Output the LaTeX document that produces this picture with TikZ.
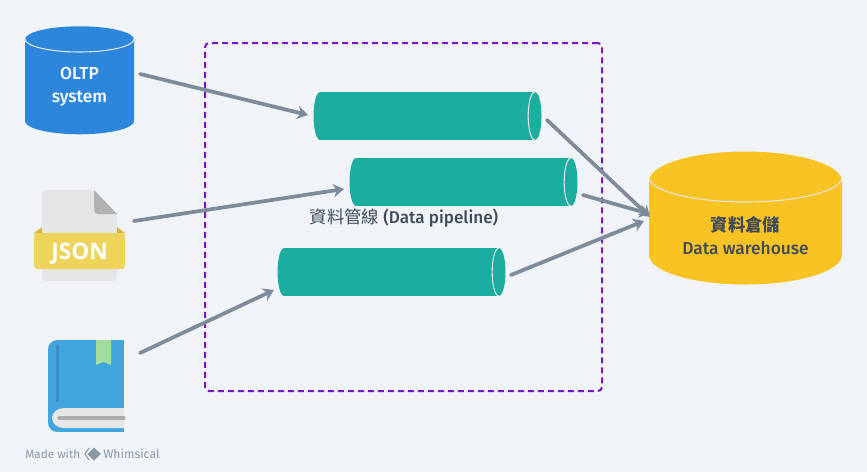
\documentclass[tikz,border=0pt]{standalone}
\usepackage{fontspec}
\setmainfont{Fira Sans}[BoldFont={Fira Sans Medium}]
\newfontfamily\cjk{Noto Sans CJK TC}
\newfontfamily\jsonfont{Open Sans}
\usepackage{xcolor}
\usetikzlibrary{shapes.geometric,arrows.meta,positioning,calc}

\definecolor{bgcol}{HTML}{F0F4F8}
\definecolor{oltpcol}{HTML}{2B86DC}
\definecolor{pipecol}{HTML}{1BAE9E}
\definecolor{whcol}{HTML}{F9C323}
\definecolor{arrcol}{HTML}{7D8B9A}
\definecolor{boxcol}{HTML}{7A14C8}
\definecolor{inkcol}{HTML}{3E4A57}
\definecolor{markcol}{HTML}{8C98A5}
\definecolor{bandcol}{HTML}{EFD45C}
\definecolor{bandedge}{HTML}{D9B43C}
\definecolor{paper}{HTML}{E6E6E6}
\definecolor{bookcol}{HTML}{42A5DE}
\definecolor{spinecol}{HTML}{3F8CC4}
\definecolor{ribbon}{HTML}{A0DC9C}

\begin{document}
\begin{tikzpicture}[
  x=0.75pt, y=-0.75pt,
  db/.style={cylinder, shape border rotate=90, draw=none, inner sep=0pt, outer sep=0pt,
             align=center, font=\bfseries\fontsize{13}{17.5}\selectfont},
  pipe/.style={rectangle, fill=pipecol, inner sep=0pt, outer sep=0pt,
               minimum width=161pt, minimum height=36pt},
  rim/.style={draw=white!80!gray, line width=0.8pt},
  arr/.style={-{Stealth[length=8pt, width=10pt, inset=2.5pt]}, line width=2.8pt, arrcol, line cap=round}
]
\fill[bgcol] (0,0) rectangle (867,472);
\useasboundingbox (0,0) rectangle (867,472);

% pipeline frame
\node[draw=boxcol, line width=1.5pt, dash pattern=on 4.5pt off 3pt, rounded corners=3pt,
      minimum width=297.75pt, minimum height=261pt, inner sep=0pt] (frame) at (403.5,217) {};

% sources
\node[db, fill=oltpcol, text=white, minimum width=81.75pt, minimum height=81pt, shape aspect=0.477] (oltp) at (79.5,87) {OLTP\\system};
\draw[rim] (25,39) arc[start angle=180, end angle=360, x radius=40.9pt, y radius=9.75pt];

\fill[paper] (42,194) arc[start angle=180, end angle=90, radius=3pt] -- (94,190) -- (117,214) -- (117,277)
  arc[start angle=0, end angle=-90, radius=3pt] -- (46,281) arc[start angle=270, end angle=180, radius=3pt] -- cycle;
\fill[black!30] (94,190) -- (117,214) -- (98,214) arc[start angle=270, end angle=180, radius=3pt] -- cycle;
\fill[bandedge] (34,233) -- (42,227) -- (42,233) -- cycle (125,233) -- (117,227) -- (117,233) -- cycle;
\node[fill=bandcol, rounded corners=2pt, text=white, inner sep=0pt, minimum width=68.25pt, minimum height=27pt,
      text height=12pt, text depth=0pt, font=\jsonfont\bfseries\fontsize{17}{18}\selectfont] (json) at (79.5,251) {JSON};

\node[fill=bookcol, inner sep=0pt, minimum width=57pt, minimum height=69pt] (book) at (86,386) {};
\fill[bgcol] (48,340) -- (57,340) arc[start angle=90, end angle=180, radius=6.75pt] -- cycle;
\fill[bgcol] (48,432) -- (48,423) arc[start angle=180, end angle=270, radius=6.75pt] -- cycle;
\fill[paper] (124,408) -- (64,408) arc[start angle=90, end angle=270, x radius=9pt, y radius=7.5pt] -- (124,428) -- cycle;
\draw[black!32, line width=2.6pt, line cap=round] (59,418) -- (124,418);
\draw[spinecol, line width=2.6pt, line cap=round] (57.5,346) -- (57.5,401);
\fill[ribbon] (96,340) -- (111,340) -- (111,365) -- (103.5,362) -- (96,365) -- cycle;

% pipelines
\node[pipe] (pipeA) at (427.5,116) {};
\node[pipe] (pipeB) at (463.5,182) {};
\node[pipe] (pipeC) at (391.5,272) {};
\foreach \p in {pipeA,pipeB,pipeC} {
  \fill[pipecol] (\p.west) circle[x radius=5pt, y radius=18pt] (\p.east) circle[x radius=5pt, y radius=18pt];
  \draw[rim] (\p.north east) arc[start angle=90, end angle=270, x radius=5pt, y radius=18pt];
}
\node[text=inkcol, font=\bfseries\fontsize{12.8}{14}\selectfont] (label) at (404,218) {{\cjk\mdseries\fontsize{13}{14}\selectfont 資料管線} (Data pipeline)};

% warehouse
\node[db, fill=whcol, text=inkcol, minimum width=144.75pt, minimum height=99pt, shape aspect=0.47] (dw) at (745.5,233) {\rule{0pt}{15pt}{\cjk 資料倉儲}\\Data warehouse};
\draw[rim] (649,177) arc[start angle=180, end angle=360, x radius=72.4pt, y radius=18.75pt];

% arrow ends
\coordinate (oltpOut) at (140,74);
\coordinate (jsonOut) at (134,221);
\coordinate (bookOut) at (140,353);
\coordinate (pipeAIn) at (308,115);
\coordinate (pipeBIn) at (344,189);
\coordinate (pipeCIn) at (274,290);
\coordinate (pipeAOut) at (547,120);
\coordinate (pipeBOut) at (583,195);
\coordinate (pipeCOut) at (511,275);
\coordinate (dwInA) at (650,217);
\coordinate (dwInB) at (650,214);
\coordinate (dwInC) at (644,221);

\draw[arr] (oltpOut) -- (pipeAIn);
\draw[arr] (jsonOut) -- (pipeBIn);
\draw[arr] (bookOut) -- (pipeCIn);
\draw[arr] (pipeAOut) -- (dwInA);
\draw[arr] (pipeBOut) -- (dwInB);
\draw[arr] (pipeCOut) -- (dwInC);

% footer
\node[anchor=west, text=markcol, inner sep=0pt, font=\fontsize{8.8}{10}\selectfont] (made) at (25,454) {Made with};
\draw[markcol, line width=0.8pt] (89,448) -- (85,454) -- (89,460);
\fill[markcol] (94,447.5) -- (101,454) -- (94,460.5) -- (87.5,454) -- cycle;
\node[anchor=west, text=markcol, inner sep=0pt, font=\fontsize{9.2}{10}\selectfont] (whim) at (103,454) {Whimsical};
\end{tikzpicture}
\end{document}
